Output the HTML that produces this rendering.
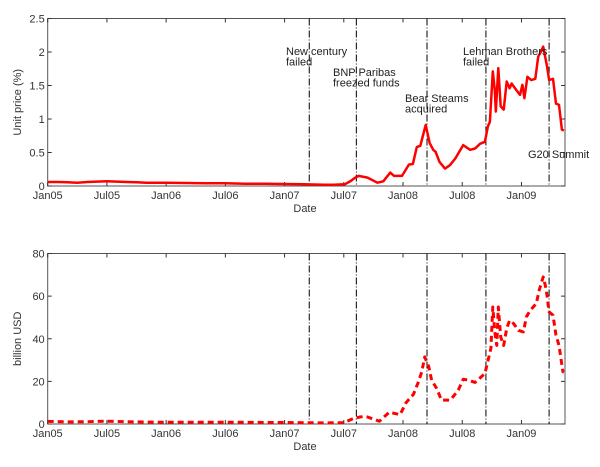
<!DOCTYPE html>
<html><head><meta charset="utf-8"><style>
body{margin:0;background:#fff;}
svg{display:block;font-family:"Liberation Sans",Arial,sans-serif;}
</style></head><body>
<svg id="chart" width="600" height="467" viewBox="0 0 600 467" xmlns="http://www.w3.org/2000/svg"></svg>
<script>
// x values are months since Jan 2005
const xTickMonths=[0,6,12,18,24,30,36,42,48];
const xTickLabels=["Jan05","Jul05","Jan06","Jul06","Jan07","Jul07","Jan08","Jul08","Jan09"];
const eventMonths=[26.5,31.27,38.43,44.4,50.8];
const eventLabels=[["New century","failed"],["BNP Paribas","freezed funds"],["Bear Steams","acquired"],["Lehman Brothers","failed"],["G20 Summit"]];
const topTicks=[0,0.5,1,1.5,2,2.5];
const botTicks=[0,20,40,60,80];
const priceMonths=[0,1,2,3,4,5,6,7,8,9,10,12,14,16,18,20,22,24,26,28,29,30.1,30.7,31.1,31.5,32.4,33.4,34,34.7,35.1,35.9,36.6,37,37.4,37.75,38.3,38.7,39.06,39.3,39.7,40.25,40.75,41.3,42.1,42.8,43.3,43.8,44.3,44.6,44.8,45.1,45.3,45.4,45.65,45.9,46.2,46.5,46.8,47.0,47.5,47.85,48.1,48.3,48.6,49.0,49.4,49.7,49.95,50.2,50.6,50.8,51.2,51.5,51.8,52.1,52.3];
const priceValues=[0.06,0.06,0.055,0.05,0.06,0.065,0.07,0.065,0.06,0.055,0.05,0.05,0.045,0.04,0.04,0.035,0.035,0.03,0.025,0.02,0.02,0.025,0.075,0.12,0.15,0.125,0.05,0.07,0.2,0.15,0.15,0.32,0.33,0.58,0.6,0.91,0.64,0.54,0.51,0.36,0.26,0.31,0.41,0.61,0.54,0.56,0.63,0.66,0.89,0.96,1.71,1.43,1.11,1.76,1.19,1.14,1.56,1.46,1.53,1.43,1.36,1.51,1.31,1.63,1.58,1.6,1.93,2.0,2.08,1.78,1.58,1.6,1.23,1.21,0.84,0.83];
const volMonths=[0,2,4,6,8,10,12,14,16,18,20,22,24,26,28,30,31.1,32.05,32.4,33.6,34.6,35.7,36.3,37.05,37.5,37.9,38.2,38.6,38.9,39.4,39.9,40.8,41.6,42.1,42.6,43.3,44.3,44.6,44.9,45.1,45.3,45.5,45.65,45.9,46.2,46.5,46.8,47.2,47.7,48.2,48.5,48.9,49.5,49.8,50.2,50.5,50.8,51.2,51.5,51.8,52.2,52.3];
const volValues=[1.2,1,1.1,1.3,1.1,0.9,0.8,0.8,0.8,0.8,0.8,0.7,0.7,0.6,0.5,0.6,2.8,3.6,3.3,1.3,5.5,4.4,10,13.9,19,24.5,31.5,27,20.6,16.7,11.2,11.2,15.9,21,20.6,19.5,23.7,29.5,35.5,54.9,43.1,36.9,54.9,40.8,36.9,44.8,48.6,47.1,43.9,43.2,50.3,53.4,56.5,62.8,69,63.5,52.6,51,41.6,36.9,24.5,24.5];

const svg=document.getElementById('chart');
const NS="http://www.w3.org/2000/svg";
function mk(tag,attrs,parent){const e=document.createElementNS(NS,tag);for(const k in attrs)e.setAttribute(k,attrs[k]);(parent||svg).appendChild(e);return e;}
const L=47.7,R=565;
function xs(m){return L+m*9.87;}
function panel(top,bottom,ymax,ticks,mx,vals,dashed,ytitle,name,showLabels){
  const ys=v=>bottom-(v/ymax)*(bottom-top);
  const g=mk('g',{});
  
  
  const fr=mk('rect',{x:L,y:top,width:R-L,height:bottom-top,fill:'none',stroke:'#555','stroke-width':1},g);
  
  
  ticks.forEach(t=>{
    const y=ys(t);
    mk('line',{x1:L,y1:y,x2:L+4,y2:y,stroke:'#333'},g);
    mk('line',{x1:R,y1:y,x2:R-4,y2:y,stroke:'#333'},g);
    const tx=mk('text',{x:L-3,y:y+4,'text-anchor':'end','font-size':11,fill:'#333'},g);
    tx.textContent=t;
    
    
  });
  xTickMonths.forEach((m,i)=>{
    const x=xs(m);
    mk('line',{x1:x,y1:bottom,x2:x,y2:bottom-4,stroke:'#333'},g);
    mk('line',{x1:x,y1:top,x2:x,y2:top+4,stroke:'#333'},g);
    const tx=mk('text',{x:x,y:bottom+13,'text-anchor':'middle','font-size':11,fill:'#333'},g);
    tx.textContent=xTickLabels[i];
    
    
  });
  eventMonths.forEach((m,i)=>{
    const x=xs(m);
    const ln=mk('line',{x1:x,y1:top,x2:x,y2:bottom,stroke:'#000','stroke-width':1,'stroke-dasharray':'7,2,1,2'},g);
    
    
  });
  const d=mx.map((m,i)=>(i?'L':'M')+xs(m).toFixed(1)+','+ys(vals[i]).toFixed(1)).join(' ');
  const p=mk('path',{d:d,fill:'none',stroke:'#f00','stroke-width':dashed?3:2.5,'stroke-linejoin':'round','stroke-dasharray':dashed?'6,4':'none'},g);
  
  
  const xt=mk('text',{x:305,y:bottom+26,'text-anchor':'middle','font-size':11,fill:'#333'},g);
  xt.textContent='Date';
  
  
  const cy=(top+bottom)/2;
  const yt=mk('text',{x:21,y:cy,'text-anchor':'middle','font-size':11,fill:'#333',transform:'rotate(-90 21 '+cy+')'},g);
  yt.textContent=ytitle;
  
  
}
panel(18.5,186,2.5,topTicks,priceMonths,priceValues,false,'Unit price (%)','price',true);
panel(253.5,424,80,botTicks,volMonths,volValues,true,'billion USD','volume',false);
const labelPos=[[286,55],[333,76],[405,102],[463,55],[528,158]];
eventLabels.forEach((lines,i)=>{
  lines.forEach((s,j)=>{
    const t=mk('text',{x:labelPos[i][0],y:labelPos[i][1]+j*10.5,'font-size':11,fill:'#222'});
    t.textContent=s;
    
    
  });
});
</script>
</body></html>
